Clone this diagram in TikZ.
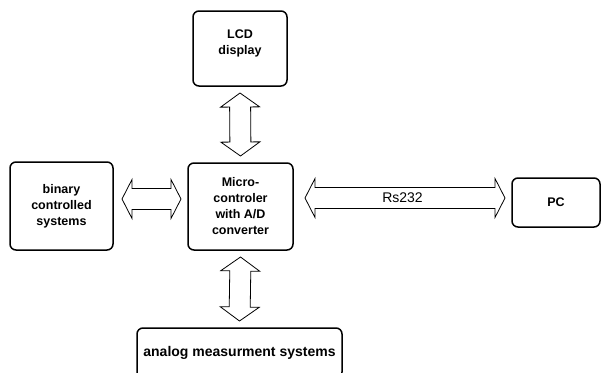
\documentclass[tikz,border=0pt]{standalone}
\usepackage{fontspec}
\setmainfont{Liberation Sans}
\usetikzlibrary{calc}

\tikzset{
  block/.style={draw, line width=1.5pt, rounded corners=6pt, align=center,
    inner sep=0pt, outer sep=7pt, font=\fontsize{12.5}{16}\selectfont\bfseries},
  fat arrow/.style={line width=0.8pt, to path={let \p1=(\tikztostart), \p2=(\tikztotarget) in
    -- ($(\p1)!#1!(\p2)!19.5pt!90:(\p2)$)
    -- ($(\p1)!#1!(\p2)!10.5pt!90:(\p2)$)
    -- ($(\p2)!#1!(\p1)!10.5pt!-90:(\p1)$)
    -- ($(\p2)!#1!(\p1)!19.5pt!-90:(\p1)$)
    -- (\p2)
    -- ($(\p2)!#1!(\p1)!19.5pt!90:(\p1)$)
    -- ($(\p2)!#1!(\p1)!10.5pt!90:(\p1)$)
    -- ($(\p1)!#1!(\p2)!10.5pt!-90:(\p2)$)
    -- ($(\p1)!#1!(\p2)!19.5pt!-90:(\p2)$)
    -- cycle}},
  fat arrow/.default=12pt
}

\begin{document}
\begin{tikzpicture}[x=1pt,y=-1pt]
\useasboundingbox (0,0) rectangle (602,372);
% boxes
\node[block, minimum width=94pt, anchor=north, text height=43.3pt, text depth=31.7pt] (lcd) at (240,4) {LCD\\display};
\node[block, minimum width=105pt, minimum height=87pt] (mc) at (240.5,206.5) {Micro-\\controler\\with A/D\\converter};
\node[block, minimum width=103pt, minimum height=88pt] (bin) at (61.5,206) {binary\\controlled\\systems};
\node[block, minimum width=88pt, minimum height=49pt] (pc) at (556,202.5) {PC};
\node[block, minimum width=205pt, anchor=north, text height=28.7pt, text depth=21.3pt,
  font=\fontsize{14}{16}\selectfont\bfseries] (ams) at (239.5,321) {analog measurment systems};
% links
\draw[fat arrow=14pt] (lcd.south) to (mc.north);
\draw[fat arrow=14pt] (mc.south) to (ams.north);
\draw[fat arrow=10pt] ([xshift=2pt,yshift=7pt]bin.east) to ([yshift=7.5pt]mc.west);
\draw[fat arrow=10pt] ([xshift=5pt,yshift=8.5pt]mc.east) to ([yshift=4.5pt]pc.west);
\node[font=\fontsize{14}{16}\selectfont] (rs) at ($([yshift=8.5pt]mc.east)!0.5!([yshift=4.5pt]pc.west)$) {Rs232};
\end{tikzpicture}
\end{document}
